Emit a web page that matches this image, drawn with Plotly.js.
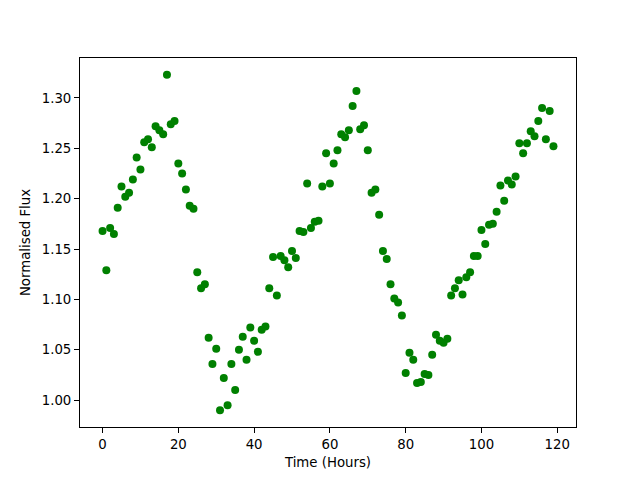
<!DOCTYPE html>
<html>
<head>
<meta charset="utf-8">
<script src="https://cdn.plot.ly/plotly-3.0.1.min.js"></script>
<style>html,body{margin:0;padding:0;background:#fff;}#chart{width:640px;height:480px;}</style>
</head>
<body>
<div id="chart"></div>
<script>
const hours = Array.from({length: 120}, (_, i) => i);
const flux = [
1.168,1.129,1.171,1.165,1.191,1.212,1.202,1.206,1.219,1.241,
1.229,1.256,1.259,1.251,1.272,1.268,1.264,1.323,1.274,1.277,
1.235,1.225,1.209,1.193,1.190,1.127,1.111,1.115,1.062,1.036,
1.051,0.990,1.022,0.995,1.036,1.010,1.050,1.063,1.040,1.072,
1.059,1.048,1.070,1.073,1.111,1.142,1.104,1.143,1.139,1.132,
1.148,1.141,1.168,1.167,1.215,1.171,1.177,1.178,1.212,1.245,
1.215,1.235,1.248,1.264,1.261,1.268,1.292,1.307,1.269,1.273,
1.248,1.206,1.209,1.184,1.148,1.140,1.115,1.101,1.097,1.084,
1.027,1.047,1.040,1.017,1.018,1.026,1.025,1.045,1.065,1.059,
1.057,1.061,1.104,1.111,1.119,1.105,1.122,1.127,1.143,1.143,
1.169,1.155,1.174,1.175,1.187,1.213,1.198,1.218,1.214,1.222,
1.255,1.245,1.255,1.267,1.262,1.277,1.290,1.259,1.287,1.252
];
const xTicks = [0, 20, 40, 60, 80, 100, 120];
const yTicks = [1.00, 1.05, 1.10, 1.15, 1.20, 1.25, 1.30];

const font = {family: 'DejaVu Sans', size: 13.3, color: '#000'};
const axisCommon = {
  showgrid: false, zeroline: false, showline: true, mirror: true,
  linecolor: '#000', linewidth: 1, ticks: 'outside', ticklen: 5,
  tickwidth: 1, tickcolor: '#000', tickfont: font
};
Plotly.newPlot('chart', [{
  x: hours, y: flux, type: 'scatter', mode: 'markers',
  marker: {color: '#008000', size: 8}
}], {
  width: 640, height: 480,
  margin: {l: 80, r: 64, t: 58, b: 53},
  paper_bgcolor: '#fff', plot_bgcolor: '#fff',
  font: font, showlegend: false,
  xaxis: Object.assign({}, axisCommon, {
    range: [-5.95, 124.95], tickvals: xTicks, ticktext: xTicks.map(String),
    title: {text: 'Time (Hours)', font: font, standoff: 6}
  }),
  yaxis: Object.assign({}, axisCommon, {
    range: [0.97335, 1.33965], tickvals: yTicks, ticktext: yTicks.map(v => v.toFixed(2)),
    title: {text: 'Normalised Flux', font: font, standoff: 8}
  })
}, {displayModeBar: false, staticPlot: true});
</script>
</body>
</html>
